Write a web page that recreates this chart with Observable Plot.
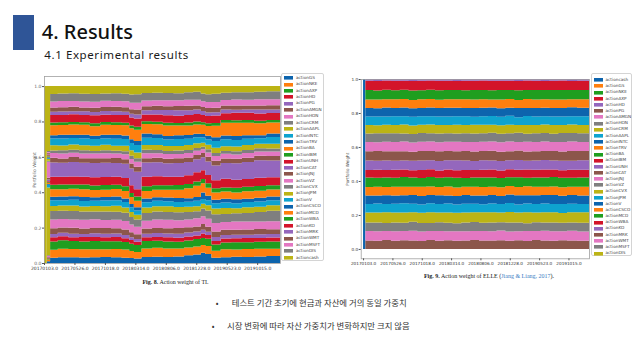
<!DOCTYPE html>
<html><head><meta charset="utf-8">
<script src="https://cdn.jsdelivr.net/npm/d3@7"></script>
<script src="https://cdn.jsdelivr.net/npm/@observablehq/plot@0.6"></script>
<style>
body{margin:0;width:640px;height:360px;background:#fff;position:relative;overflow:hidden;font-family:"Noto Sans","Noto Sans CJK KR",sans-serif;}
.abs{position:absolute;}
.lg1-swatches,.lg2-swatches{font:4.2px "DejaVu Sans",sans-serif !important;line-height:4.2px !important;color:#444;margin:0 !important;}
.lg1-swatch,.lg2-swatch{padding:0 !important;margin:0 !important;display:flex !important;align-items:center;overflow:visible;box-sizing:border-box;}
.lg1-swatch{height:6.43px !important;}
.lg2-swatch{height:6.19px !important;}
.lg1-swatch::before,.lg2-swatch::before{content:none !important;}
.lg1-swatch > svg,.lg2-swatch > svg{margin-right:3px !important;flex-shrink:0;}
.lg1-swatch-label,.lg2-swatch-label{line-height:4.2px !important;overflow:visible !important;}
.lgbox{border:1px solid #d4d4d4;border-radius:2px;background:#fff;box-sizing:border-box;}
</style></head><body>
<svg class="abs" width="640" height="360" style="left:0;top:0">
  <rect x="13" y="15" width="21" height="35" fill="#2F5597"/>
  <text x="41.7" y="39.3" font-size="20" font-weight="500" fill="#111" font-family="Noto Sans, Noto Sans CJK KR">4. Results</text>
  <text x="44.3" y="59.3" font-size="11.5" letter-spacing="0.6" fill="#1a1a1a" font-family="Noto Sans, Noto Sans CJK KR">4.1 Experimental results</text>
  <text x="175.5" y="284" text-anchor="middle" font-family="Liberation Serif" font-size="6" fill="#222"><tspan font-weight="bold">Fig. 8.</tspan> Action weight of TI.</text>
  <text x="489" y="278" text-anchor="middle" font-family="Liberation Serif" font-size="6" fill="#222"><tspan font-weight="bold">Fig. 9.</tspan> Action weight of ELLE (<tspan fill="#3b7dc4">Jiang &amp; Liang, 2017</tspan>).</text>
  <text x="217" y="306" text-anchor="middle" font-size="8" fill="#333" font-family="Noto Sans CJK KR">•</text>
  <text x="231.7" y="306" font-size="8.4" fill="#333" font-family="Noto Sans CJK KR">테스트 기간 초기에 현금과 자산에 거의 동일 가중치</text>
  <text x="213" y="329" text-anchor="middle" font-size="8" fill="#333" font-family="Noto Sans CJK KR">•</text>
  <text x="227" y="329" font-size="8.4" fill="#333" font-family="Noto Sans CJK KR">시장 변화에 따라 자산 가중치가 변화하지만 크지 않음</text>
</svg>
<div id="c1" class="abs" style="left:0;top:60px"></div>
<div id="c2" class="abs" style="left:330px;top:60px"></div>
<div id="l1" class="abs lgbox" style="left:281px;top:72.7px;width:43px;height:188px;padding:1px 0 0 2px"></div>
<div id="l2" class="abs lgbox" style="left:591px;top:73px;width:41px;height:183px;padding:3px 0 0 1.5px"></div>
<script>
// ---------- data ----------
const tab10 = ["#0d64ad","#ff7f0e","#1f9e1f","#d3142a","#9467bd","#8c564b","#e377c2","#7f7f7f","#bcb415","#0ea3cf"];
const tickDays = [0,100,200,300,400,500,600,700];
const tickLabels = ["20170103.0","20170526.0","20171018.0","20180314.0","20180806.0","20181228.0","20190523.0","20191015.0"];

// TI (Fig. 8)
const tiNames = ["actionGS","actionNKE","actionAXP","actionHD","actionPG","actionAMGN","actionHON","actionCRM","actionAAPL","actionINTC","actionTRV","actionBA","actionIBM","actionUNH","actionCAT","actionJNJ","actionVZ","actionCVX","actionJPM","actionV","actionCSCO","actionMCD","actionWBA","actionKO","actionMRK","actionWMT","actionMSFT","actionDIS","actioncash"];
const tiDays = [0,9,20,45,80,115,150,185,220,255,280,295,320,355,390,425,460,490,515,530,550,580,615,650,690,730];
const tiEndDay = 775;
// weights in per-mille, one row per asset (tiNames order), one value per step (tiDays)
const tiWeights = [
 [0,10,30,32,33,31,32,34,33,30,28,25,34,36,35,38,45,48,55,50,30,34,36,35,38,40],
 [0,10,45,48,46,47,45,44,46,45,38,35,50,52,48,46,44,45,42,44,40,45,43,46,44,42],
 [0,5,46,47,45,44,46,45,44,43,40,38,42,40,41,39,40,42,38,40,36,40,42,38,40,41],
 [0,3,24,23,22,25,23,22,24,21,20,18,22,23,25,24,22,20,24,22,20,23,22,24,21,22],
 [0,3,18,19,20,18,21,20,19,18,16,15,20,22,21,23,24,22,20,18,22,20,21,19,22,20],
 [0,3,32,30,33,31,29,32,30,31,27,26,30,29,31,33,30,28,30,27,32,30,29,31,30,28],
 [0,5,50,48,47,50,49,46,48,47,42,40,46,50,48,45,44,46,42,45,48,46,47,45,43,46],
 [0,5,47,45,48,46,44,47,45,46,42,40,44,46,45,47,43,40,42,45,50,46,48,50,55,60],
 [0,380,28,30,32,29,31,30,33,30,27,25,32,30,33,31,30,28,26,30,33,35,30,32,30,31],
 [0,15,33,30,32,31,30,33,31,30,26,24,30,32,30,29,28,30,25,28,30,32,29,30,31,28],
 [0,5,19,21,20,22,19,20,21,20,18,17,22,20,21,23,20,22,35,24,20,21,22,20,21,22],
 [0,5,43,40,42,45,41,40,43,42,38,36,42,44,45,48,58,62,50,44,40,42,40,43,41,40],
 [0,5,25,27,24,26,25,27,24,26,22,22,28,26,25,27,24,25,22,26,25,24,27,25,26,24],
 [0,5,45,43,46,44,47,45,44,46,43,40,55,52,50,48,50,52,48,46,45,50,47,45,48,46],
 [0,10,80,78,82,80,79,81,78,80,92,95,82,80,78,80,76,72,70,75,85,92,95,98,100,95],
 [0,10,27,25,28,26,27,25,28,26,27,28,25,27,26,28,25,24,22,26,27,25,26,24,27,26],
 [0,90,26,28,25,27,26,28,25,27,26,27,28,26,27,25,26,24,20,24,26,28,25,27,24,26],
 [0,5,15,17,16,18,15,17,16,18,17,18,20,18,17,19,18,16,14,17,18,16,19,17,18,16],
 [0,10,29,27,30,28,29,31,28,30,31,32,28,30,29,27,28,26,22,25,30,28,27,29,26,28],
 [0,5,38,40,37,39,38,36,40,38,39,40,42,40,38,40,36,34,28,30,38,40,38,36,32,38],
 [0,5,18,20,19,21,18,20,22,19,21,22,24,22,20,22,21,20,18,20,22,21,23,20,18,21],
 [0,5,57,55,58,56,54,57,55,58,60,62,55,58,60,57,54,52,50,55,65,75,78,72,68,62],
 [0,5,15,16,14,15,17,15,16,14,15,16,15,14,16,15,17,16,14,15,16,15,14,16,15,14],
 [0,5,42,40,43,41,44,42,40,43,44,45,40,42,44,42,43,42,38,40,42,40,43,41,42,40],
 [0,5,19,20,18,21,19,20,22,19,21,22,24,26,30,32,28,25,22,20,19,21,18,20,22,20],
 [0,5,24,23,25,22,24,23,25,24,25,26,23,24,22,24,25,23,22,24,25,23,24,22,24,25],
 [0,5,33,35,32,34,33,35,32,34,36,37,33,32,34,33,35,32,30,33,34,32,35,33,36,34],
 [0,5,43,42,45,44,43,41,44,42,45,46,43,44,42,41,43,45,42,44,46,43,42,44,43,45],
 [1000,365,44,42,40,43,45,42,40,43,46,45,40,38,40,42,35,32,40,45,44,38,36,35,32,30]
];

// ELLE (Fig. 9)
const elleNames = ["actioncash","actionGS","actionNKE","actionAXP","actionHD","actionPG","actionAMGN","actionHON","actionCRM","actionAAPL","actionINTC","actionTRV","actionBA","actionIBM","actionUNH","actionCAT","actionJNJ","actionVZ","actionCVX","actionJPM","actionV","actionCSCO","actionMCD","actionWBA","actionKO","actionMRK","actionWMT","actionMSFT","actionDIS"];
const elleDays = [0,8,35,65,95,125,155,185,215,245,275,305,335,365,395,425,455,485,515,545,575,605,635,665,695,730];
const elleEndDay = 770;
const elleWeights = [
 [1000,0,0,0,0,0,0,0,0,0,0,0,0,0,0,0,0,0,0,0,0,0,0,0,0,0],
 [0,0,0,0,0,0,0,0,0,0,0,0,0,0,0,0,0,0,0,0,0,0,0,0,0,0],
 [0,0,0,0,0,0,0,0,0,0,0,0,0,0,0,0,0,0,0,0,0,0,0,0,0,0],
 [0,0,0,0,0,0,0,0,0,0,0,0,0,0,0,0,0,0,0,0,0,0,0,0,0,0],
 [0,0,0,0,0,0,0,0,0,0,0,0,0,0,0,0,0,0,0,0,0,0,0,0,0,0],
 [0,50,48,52,49,51,50,47,52,49,51,48,50,53,49,50,52,48,51,47,52,50,49,51,50,48],
 [0,55,57,53,56,54,58,55,53,57,54,56,55,52,56,54,57,55,53,58,54,56,55,53,57,55],
 [0,50,52,48,51,49,53,50,48,52,50,47,51,53,49,51,48,52,50,46,51,49,52,50,48,51],
 [0,60,58,62,59,61,57,60,63,58,60,62,59,57,61,60,58,62,59,64,57,60,61,58,60,62],
 [0,50,53,49,51,54,50,48,52,50,53,49,51,50,48,52,50,53,47,52,50,51,49,52,50,49],
 [0,50,48,51,49,47,52,50,49,51,48,50,52,49,51,50,47,49,54,48,51,50,52,49,51,50],
 [0,50,52,49,51,50,48,53,50,49,52,50,48,51,50,49,52,50,48,53,50,49,51,50,48,52],
 [0,55,53,56,54,57,55,52,56,54,55,57,53,55,56,54,55,52,57,50,55,54,56,55,53,55],
 [0,45,47,44,46,45,43,47,45,44,46,45,47,44,45,46,44,47,43,48,45,46,44,45,47,45],
 [0,55,53,56,54,52,57,55,53,56,54,58,55,53,56,54,55,53,57,52,55,56,54,55,53,56],
 [0,55,57,54,56,55,53,56,54,57,55,53,56,55,54,57,55,52,56,54,55,53,56,55,57,54],
 [0,55,53,56,54,57,55,53,56,54,55,57,53,56,55,54,56,58,50,57,54,55,53,56,55,54],
 [0,50,52,49,51,48,50,52,49,51,50,48,52,50,49,51,50,48,53,47,51,50,49,52,50,51],
 [0,50,48,51,49,52,50,47,51,50,48,52,49,51,50,48,51,50,46,52,49,50,51,48,50,49],
 [0,50,52,48,51,49,53,50,48,51,50,49,52,48,50,51,49,52,45,53,50,48,51,50,49,51],
 [0,50,48,52,49,51,50,48,51,49,52,50,48,51,50,49,51,48,54,47,50,51,49,50,52,50],
 [0,50,52,49,51,50,48,52,50,49,51,50,52,49,50,48,51,50,47,53,50,49,51,50,48,50],
 [0,55,53,56,54,55,57,53,55,56,54,55,53,56,55,54,56,53,57,52,55,54,56,55,53,55],
 [0,55,56,54,55,53,56,55,54,56,55,53,56,54,55,56,54,55,53,56,55,54,55,56,54,55],
 [0,10,12,9,11,10,12,10,9,11,10,12,10,11,9,10,11,10,12,9,10,11,10,9,11,10],
 [0,0,0,0,0,0,0,0,0,0,0,0,0,0,0,0,0,0,0,0,0,0,0,0,0,0],
 [0,0,0,0,0,0,0,0,0,0,0,0,0,0,0,0,0,0,0,0,0,0,0,0,0,0],
 [0,0,0,0,0,0,0,0,0,0,0,0,0,0,0,0,0,0,0,0,0,0,0,0,0,0],
 [0,0,0,0,0,0,0,0,0,0,0,0,0,0,0,0,0,0,0,0,0,0,0,0,0,0]
];

// ---------- build ----------
function toRows(names, days, endDay, weights) {
  const out = [];
  names.forEach((name, s) => {
    days.forEach((day, i) => out.push({name, day, w: weights[s][i]}));
    out.push({name, day: endDay, w: weights[s][days.length - 1]}); // end of last step
  });
  return out;
}
const colorsFor = names => names.map((_, i) => tab10[i % 10]);

function chart(names, days, endDay, weights, o) {
  return Plot.plot({
    width: o.width, height: o.height,
    marginLeft: o.ml, marginRight: o.mr, marginTop: o.mt, marginBottom: o.mb,
    x: {domain: o.xDomain},
    y: {domain: o.yDomain},
    color: {domain: names, range: colorsFor(names)},
    style: {fontFamily: "DejaVu Sans, sans-serif", fontSize: o.fs + "px", color: "#333", background: "transparent", overflow: "visible"},
    marks: [
      Plot.areaY(toRows(names, days, endDay, weights),
        Plot.stackY({x: "day", y: "w", fill: "name", order: names, offset: "normalize", curve: "step-after"})),
      Plot.frame({stroke: "#a0a0a0", strokeWidth: 0.8}),
      Plot.axisX({ticks: tickDays, tickFormat: (d, i) => tickLabels[i], tickSize: 2, tickPadding: 1, label: null, stroke: "#555"}),
      Plot.axisY({ticks: 6, tickFormat: d3.format(".1f"), tickSize: 2, tickPadding: 1, stroke: "#555",
        label: "Portfolio Weight", labelAnchor: "center", labelArrow: "none", labelOffset: o.lo, fill: o.lf})
    ]
  });
}

document.getElementById("c1").append(chart(tiNames, tiDays, tiEndDay, tiWeights,
  {width: 281, height: 215, ml: 44, mr: 1, mt: 16, mb: 12, xDomain: [0, tiEndDay], yDomain: [0, 1.057], fs: 4.5, lo: 12, lf: "#666"}));
document.getElementById("c2").append(chart(elleNames, elleDays, elleEndDay, elleWeights,
  {width: 260, height: 210, ml: 30.7, mr: 1, mt: 19, mb: 11.7, xDomain: [-8, elleEndDay], yDomain: [-0.055, 1.0], fs: 4.2, lo: 15, lf: "#333"}));

function legend(names, cls) {
  return Plot.legend({color: {type: "ordinal", domain: names, range: colorsFor(names)},
    legend: "swatches", columns: 1, swatchWidth: 9, swatchHeight: 3.6, className: cls});
}
document.getElementById("l1").append(legend(tiNames, "lg1"));
document.getElementById("l2").append(legend(elleNames, "lg2"));
</script>
</body></html>
